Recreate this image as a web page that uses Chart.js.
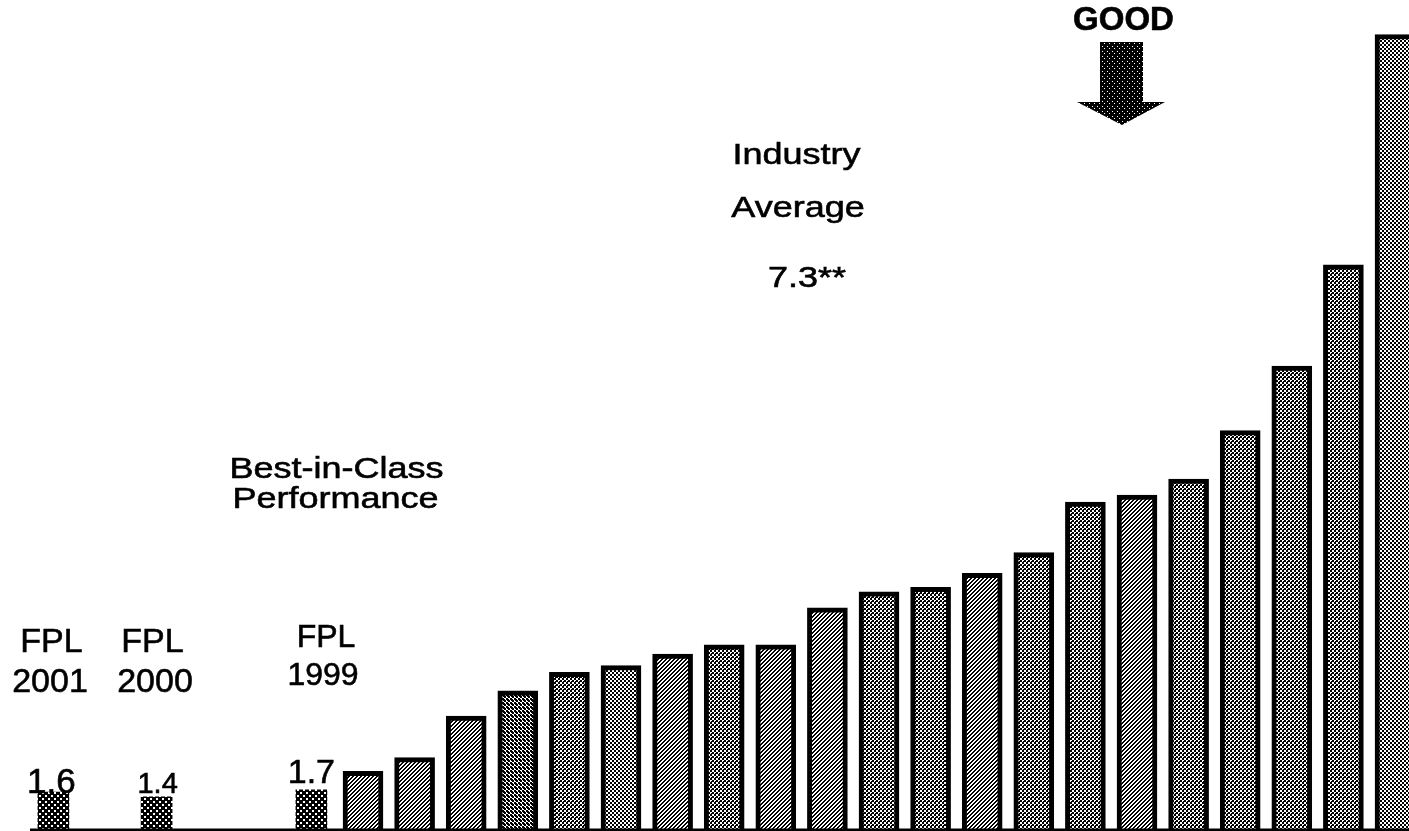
<!DOCTYPE html>
<html lang="en">
<head>
    <meta charset="UTF-8">
    <title>Best-in-Class Performance</title>
    <script src="https://cdn.jsdelivr.net/npm/chart.js"></script>
    <style>
        html, body { margin: 0; padding: 0; background: #fff; overflow: hidden; }
        #wrap { width: 1409px; height: 831px; overflow: hidden; }
    </style>
</head>
<body>
    <div id="wrap">
        <canvas id="perf-chart" width="1422" height="831"></canvas>
    </div>

    <script>
        // slots along the axis: FPL years first, gaps, then peer units
        const categories = ['FPL 2001', '', 'FPL 2000', '', '', 'FPL 1999',
            'Unit 1', 'Unit 2', 'Unit 3', 'Unit 4', 'Unit 5', 'Unit 6', 'Unit 7',
            'Unit 8', 'Unit 9', 'Unit 10', 'Unit 11', 'Unit 12', 'Unit 13', 'Unit 14',
            'Unit 15', 'Unit 16', 'Unit 17', 'Unit 18', 'Unit 19', 'Unit 20', 'Unit 21'];
        const fplValues = [1.6, null, 1.4, null, null, 1.7];
        const peerValues = [2.5, 3.1, 4.9, 6.0, 6.8, 7.1, 7.6, 8.0, 8.0, 9.6, 10.3,
            10.5, 11.1, 12.0, 14.2, 14.5, 15.2, 17.3, 20.1, 24.5, 34.5];
        const industryAverage = 7.3;

        // fill used for each peer bar
        const peerShade = ['hatch', 'hatch', 'hatch', 'dark', 'dots', 'light', 'hatch',
            'dots', 'hatch', 'hatch', 'dots', 'dots', 'hatch', 'dots', 'dots', 'hatch',
            'dots', 'dots', 'dots', 'dots', 'light'];

        function makePattern(size, paint) {
            const c = document.createElement('canvas');
            c.width = size; c.height = size;
            const g = c.getContext('2d');
            g.fillStyle = '#fff';
            g.fillRect(0, 0, size, size);
            g.fillStyle = '#000';
            for (let y = 0; y < size; y++) {
                for (let x = 0; x < size; x++) {
                    if (paint(x, y)) g.fillRect(x, y, 1, 1);
                }
            }
            return g.createPattern(c, 'repeat');
        }

        const ctx0 = document.getElementById('perf-chart').getContext('2d');
        const patterns = {
            hatch: makePattern(4, (x, y) => (x + y) % 4 < 2),
            dots: makePattern(4, (x, y) => ((x >> 1) + (y >> 1)) % 2 === 0 || (x === 3 && y === 1)),
            dark: makePattern(4, (x, y) => ((x >> 1) + (y >> 1)) % 2 === 0 || (x === 3 && y === 0) || (x === 0 && y === 3)),
            light: makePattern(4, (x, y) => ((x >> 1) + (y >> 1)) % 2 === 0),
            fpl: makePattern(6, (x, y) => !((x < 2 && y < 2) || (x >= 3 && x < 5 && y >= 3 && y < 5))),
            arrow: makePattern(5, (x, y) => !(x === 2 && y === 1) && !(x === 4 && y === 3))
        };

        const fplData = fplValues.concat(peerValues.map(() => null));
        const peerData = fplValues.map(() => null).concat(peerValues);

        const notes = [
            { text: 'FPL', x: 51.5, y: 652, size: 34, sx: 1 },
            { text: '2001', x: 50, y: 692, size: 34, sx: 1 },
            { text: 'FPL', x: 152.5, y: 652, size: 34, sx: 1 },
            { text: '2000', x: 155, y: 692, size: 34, sx: 1 },
            { text: 'FPL', x: 326, y: 647, size: 32, sx: 1 },
            { text: '1999', x: 323, y: 685, size: 32, sx: 1 },
            { text: 'Best-in-Class', x: 336.5, y: 478, size: 30, sx: 1.2 },
            { text: 'Performance', x: 335.5, y: 508, size: 30, sx: 1.2 },
            { text: 'Industry', x: 796.5, y: 164, size: 30, sx: 1.2 },
            { text: 'Average', x: 798, y: 217, size: 30, sx: 1.2 },
            { text: industryAverage.toFixed(1) + '**', x: 807, y: 287, size: 30, sx: 1.2 },
            { text: 'GOOD', x: 1123.5, y: 30, size: 33, sx: 1, bold: true }
        ];

        // value labels over the FPL bars: size and nudge from the bar
        const fplLabelStyle = [
            { size: 35, dx: -2, dy: 1 },
            null,
            { size: 29, dx: 1, dy: -4 },
            null, null,
            { size: 34, dx: 0, dy: -7 }
        ];

        function drawText(ctx, n) {
            ctx.save();
            ctx.font = (n.bold ? 'bold ' : '') + n.size + 'px "Liberation Sans", Arial, sans-serif';
            ctx.fillStyle = '#000';
            ctx.strokeStyle = '#000';
            ctx.lineWidth = 0.6;
            ctx.textAlign = 'center';
            ctx.textBaseline = 'alphabetic';
            ctx.translate(n.x, n.y);
            ctx.scale(n.sx, 1);
            ctx.fillText(n.text, 0, 0);
            ctx.strokeText(n.text, 0, 0);
            ctx.restore();
        }

        const decorations = {
            id: 'decorations',
            afterDatasetsDraw(chart) {
                const ctx = chart.ctx;
                const area = chart.chartArea;

                // baseline
                ctx.fillStyle = '#000';
                ctx.fillRect(30, area.bottom - 0.5, 1400, 3);

                notes.forEach(n => drawText(ctx, n));

                // values above the FPL bars
                const meta = chart.getDatasetMeta(0);
                fplValues.forEach((v, i) => {
                    if (v === null) return;
                    const bar = meta.data[i];
                    const st = fplLabelStyle[i];
                    drawText(ctx, { text: v.toFixed(1), x: bar.x + st.dx, y: bar.y + st.dy, size: st.size, sx: 1 });
                });

                // "good" direction arrow
                ctx.save();
                ctx.fillStyle = patterns.arrow;
                ctx.beginPath();
                ctx.moveTo(1100, 42);
                ctx.lineTo(1143, 42);
                ctx.lineTo(1143, 102);
                ctx.lineTo(1165, 102);
                ctx.lineTo(1122, 125);
                ctx.lineTo(1077, 102);
                ctx.lineTo(1100, 102);
                ctx.closePath();
                ctx.fill();
                ctx.restore();
            }
        };

        new Chart(ctx0, {
            type: 'bar',
            data: {
                labels: categories,
                datasets: [{
                    label: 'FPL',
                    data: fplData,
                    backgroundColor: patterns.fpl,
                    borderWidth: 0,
                    barThickness: 31
                }, {
                    label: 'Industry',
                    data: peerData,
                    backgroundColor: c => patterns[peerShade[c.dataIndex - fplValues.length]] || patterns.dots,
                    borderColor: '#000',
                    borderWidth: 5,
                    barThickness: 40
                }]
            },
            options: {
                responsive: false,
                animation: false,
                devicePixelRatio: 1,
                layout: { padding: { left: 27.6, right: 1.2, top: 0, bottom: 2 } },
                datasets: { bar: { grouped: false } },
                plugins: { legend: { display: false }, tooltip: { enabled: false } },
                scales: {
                    x: { display: false },
                    y: { display: false, min: 0, max: 36 }
                }
            },
            plugins: [decorations]
        });
    </script>
</body>
</html>
